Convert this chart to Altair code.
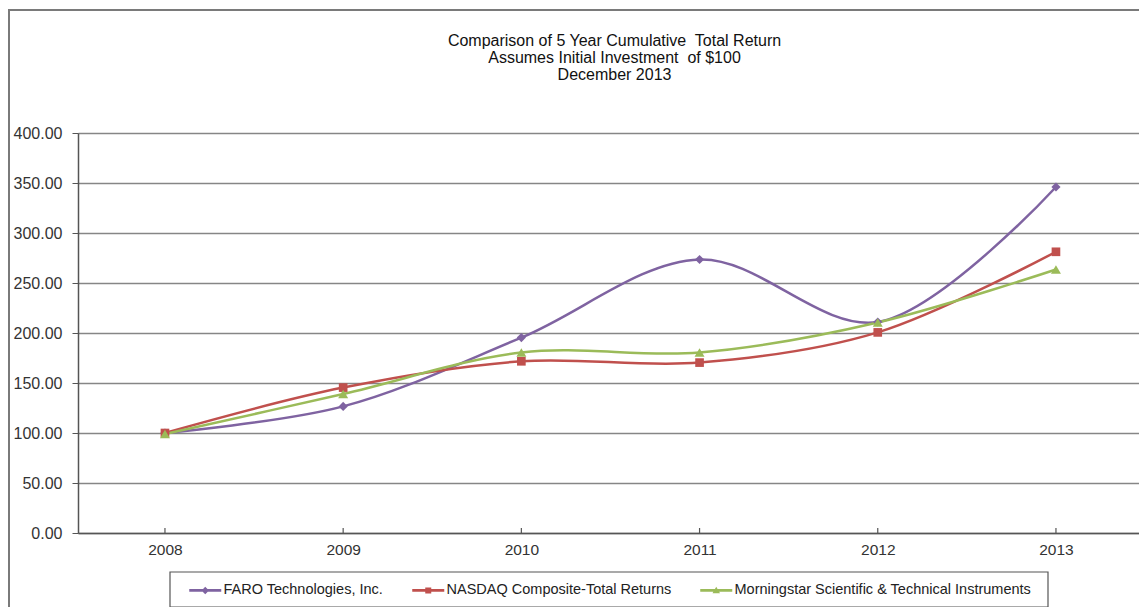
import altair as alt
import pandas as pd

years = [2008, 2009, 2010, 2011, 2012, 2013]
series_names = ["FARO Technologies, Inc.", "NASDAQ Composite-Total Returns",
                "Morningstar Scientific & Technical Instruments"]
faro = [100.00, 126.6, 195.4, 273.5, 211.0, 346.0]
nasdaq = [100.00, 145.4, 171.7, 170.4, 200.6, 281.2]
morningstar = [99.0, 139.0, 180.5, 180.5, 210.5, 263.5]
colors = ["#7f63a1", "#c0504d", "#9bbb59"]
title_lines = ["Comparison of 5 Year Cumulative\u00a0 Total Return",
               "Assumes Initial Investment\u00a0 of $100",
               "December 2013"]

rows = []
for name, vals in zip(series_names, [faro, nasdaq, morningstar]):
    for y, v in zip(years, vals):
        rows.append({"year": y, "value": v, "series": name})
df = pd.DataFrame(rows)
years_df = pd.DataFrame({"year": years})

W, H = 1061, 400
FONT = "Liberation Sans"

xscale = alt.Scale(domain=[2007.512, 2013.466], nice=False, zero=False)
xenc = alt.X("year:Q", scale=xscale,
             axis=alt.Axis(title=None, values=years, format="d", labelAngle=0, ticks=False,
                           labelFontSize=15.5, labelFont=FONT, labelColor="#333333",
                           labelPadding=9, domainColor="#555555", domainWidth=1.5,
                           grid=False, labelFlush=False))
yenc = alt.Y("value:Q", scale=alt.Scale(domain=[0, 400], nice=False),
             axis=alt.Axis(title=None, values=[0, 50, 100, 150, 200, 250, 300, 350, 400],
                           format=".2f", labelFontSize=16, labelFont=FONT,
                           labelColor="#333333", labelPadding=10, tickSize=6,
                           tickColor="#555555", domainColor="#555555", domainWidth=1.5,
                           gridColor="#868686", gridWidth=1.5))

base = alt.Chart(df)

shapes = ["diamond", "square", "triangle-up"]
sizes = [85, 75, 100]
line_layers = []
point_layers = []
for name, shp, sz, col in zip(series_names, shapes, sizes, colors):
    sub = base.transform_filter(alt.datum.series == name)
    line_layers.append(sub.mark_line(interpolate="catmull-rom", strokeWidth=2.5, color=col)
                       .encode(x=xenc, y=yenc))
    point_layers.append(sub.mark_point(shape=shp, filled=True, size=sz, opacity=1, color=col)
                        .encode(x=xenc, y=yenc))

legend_paths = [
    "M-1,-0.28L5.4,-0.28L5.4,0.28L-1,0.28Z M2.2,-0.75L2.95,0L2.2,0.75L1.45,0Z",
    "M-1,-0.28L5.4,-0.28L5.4,0.28L-1,0.28Z M1.6,-0.6L2.8,-0.6L2.8,0.6L1.6,0.6Z",
    "M-1,-0.28L5.4,-0.28L5.4,0.28L-1,0.28Z M2.2,-0.75L2.95,0.55L1.45,0.55Z",
]
leg = alt.Legend(title=None, orient="none", legendX=109, legendY=450,
                 direction="horizontal", columns=3, columnPadding=26,
                 labelFontSize=14.5, labelFont=FONT, labelColor="#222222",
                 labelLimit=0, labelOffset=22, symbolSize=100, symbolStrokeWidth=0,
                 symbolOpacity=1, padding=0)
legend_layer = base.transform_filter("false").mark_point(filled=True, opacity=1).encode(
    x=xenc, y=yenc,
    color=alt.Color("series:N", scale=alt.Scale(domain=series_names, range=colors), legend=leg),
    shape=alt.Shape("series:N", scale=alt.Scale(domain=series_names, range=legend_paths),
                    legend=leg),
)

xticks = alt.Chart(years_df).mark_rule(color="#555555", strokeWidth=1.2).encode(
    x=alt.X("year:Q", scale=xscale),
    y=alt.value(H - 5), y2=alt.value(H),
)

frame_df = pd.DataFrame({"k": [0]})
outer = alt.Chart(frame_df).mark_rect(fill=None, stroke="#7a7a7a", strokeWidth=2).encode(
    x=alt.value(-69), x2=alt.value(W + 60), y=alt.value(-123), y2=alt.value(H + 120)
)
legend_box = alt.Chart(frame_df).mark_rect(fill="white", stroke="#555555", strokeWidth=1.2).encode(
    x=alt.value(92), x2=alt.value(970), y=alt.value(439), y2=alt.value(474)
)

chart = alt.layer(outer, legend_box, *line_layers, *point_layers, legend_layer, xticks).properties(
    width=W, height=H,
    title=alt.TitleParams(text=title_lines, fontSize=16, font=FONT, fontWeight="normal",
                          color="#111111", lineHeight=17, anchor="middle", offset=-74, dx=6),
    autosize=alt.AutoSizeParams(type="none"),
    padding={"left": 70, "top": 125, "right": 0, "bottom": 74},
).configure_view(stroke="#bdbdbd", strokeWidth=1.5).configure(background="white")

chart.save("out.html", embed_options={"renderer": "svg", "actions": False})
